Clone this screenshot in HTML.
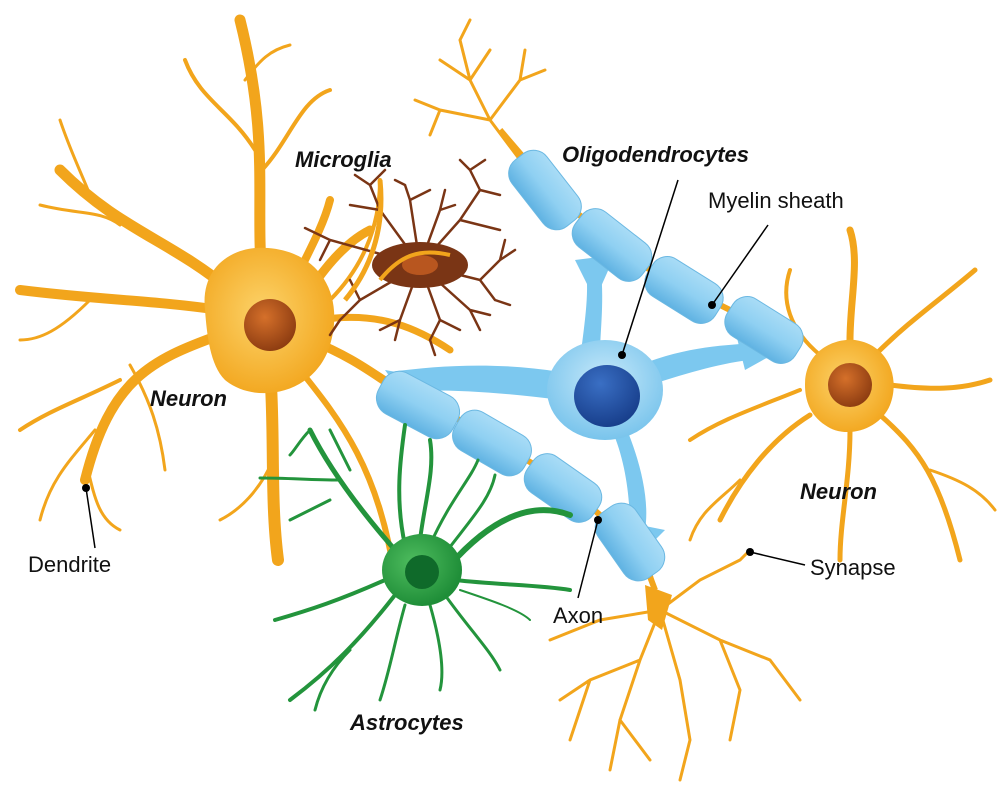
<!DOCTYPE html>
<html><head><meta charset="utf-8"><style>
html,body{margin:0;padding:0;background:#fff}
svg{display:block}
text{font-family:"Liberation Sans",sans-serif;font-size:22px;fill:#111}
.t{font-weight:bold;font-style:italic}
</style></head><body>
<svg width="1000" height="793" viewBox="0 0 1000 793">
<defs>
<radialGradient id="og" cx="0.45" cy="0.45" r="0.6"><stop offset="0" stop-color="#fcd36a"/><stop offset="1" stop-color="#f2a51c"/></radialGradient>
<radialGradient id="nb" cx="0.4" cy="0.35" r="0.7"><stop offset="0" stop-color="#d5702a"/><stop offset="1" stop-color="#8a3a10"/></radialGradient>
<radialGradient id="bl" cx="0.5" cy="0.4" r="0.6"><stop offset="0" stop-color="#c7e9fa"/><stop offset="1" stop-color="#79c4ec"/></radialGradient>
<linearGradient id="sg" x1="0" y1="0" x2="0" y2="1"><stop offset="0" stop-color="#a9dcf6"/><stop offset="0.5" stop-color="#8fd0f2"/><stop offset="1" stop-color="#5fb2e2"/></linearGradient>
<radialGradient id="bn" cx="0.4" cy="0.3" r="0.7"><stop offset="0" stop-color="#3a6fc4"/><stop offset="1" stop-color="#183f8c"/></radialGradient>
<radialGradient id="gn" cx="0.4" cy="0.4" r="0.6"><stop offset="0" stop-color="#4fbd5f"/><stop offset="1" stop-color="#1f8e38"/></radialGradient>
</defs>

<!-- orange dendrites left neuron -->
<g stroke="#f2a51c" fill="none" stroke-linecap="round">
<path d="M262,280 C255,200 270,140 240,20" stroke-width="11"/>
<path d="M255,150 C230,110 200,100 185,60" stroke-width="4"/>
<path d="M245,80 C260,60 270,50 290,45" stroke-width="3"/>
<path d="M262,170 C290,140 300,100 330,90" stroke-width="4"/>
<path d="M230,290 C170,240 120,230 60,170" stroke-width="11"/>
<path d="M120,225 C100,210 80,215 40,205" stroke-width="3"/>
<path d="M90,195 C80,170 70,150 60,120" stroke-width="3"/>
<path d="M220,310 C150,300 100,300 20,290" stroke-width="10"/>
<path d="M90,300 C60,330 40,340 20,340" stroke-width="3"/>
<path d="M220,335 C150,360 110,380 85,480" stroke-width="10"/>
<path d="M120,380 C80,400 50,410 20,430" stroke-width="4"/>
<path d="M95,430 C70,460 50,480 40,520" stroke-width="3"/>
<path d="M88,470 C95,500 100,520 120,530" stroke-width="3"/>
<path d="M130,365 C150,400 160,430 165,470" stroke-width="3"/>
<path d="M270,370 C275,430 270,500 278,560" stroke-width="12"/>
<path d="M273,460 C260,490 240,510 220,520" stroke-width="3"/>
<path d="M300,370 C340,420 380,470 395,580" stroke-width="6"/>
<path d="M310,340 C360,360 380,380 400,390" stroke-width="9"/>
<path d="M310,290 C330,260 350,240 370,230" stroke-width="9"/>
<path d="M320,320 C380,310 420,330 450,350" stroke-width="7"/>
<path d="M300,270 C315,240 325,220 330,200" stroke-width="8"/>
<path d="M330,300 C360,270 380,230 380,180" stroke-width="4"/>
</g>
<!-- left neuron body -->
<path d="M205,310 C200,265 235,245 268,248 C320,252 345,295 330,345 C315,395 255,405 225,380 C210,365 207,335 205,310Z" fill="url(#og)"/>
<circle cx="270" cy="325" r="26" fill="url(#nb)"/>

<!-- microglia -->
<g stroke="#7a3515" fill="none" stroke-linecap="round" stroke-width="2.5">
<path d="M420,265 L460,220 L480,190 M460,220 L500,230 M480,190 L470,170 M480,190 L500,195 M470,170 L460,160 M470,170 L485,160"/>
<path d="M420,265 L380,210 L370,185 M380,210 L350,205 M370,185 L385,170 M370,185 L355,175"/>
<path d="M420,265 L480,280 L500,260 M480,280 L495,300 M500,260 L515,250 M500,260 L505,240 M495,300 L510,305"/>
<path d="M420,265 L440,320 L430,340 M440,320 L460,330 M430,340 L435,355"/>
<path d="M420,265 L360,300 L340,320 M360,300 L350,280 M340,320 L330,335"/>
<path d="M420,265 L330,240 L305,228 M330,240 L320,260"/>
<path d="M420,265 L410,200 L405,185 M410,200 L430,190 M405,185 L395,180"/>
<path d="M420,265 L400,320 L395,340 M400,320 L380,330"/>
<path d="M420,265 L470,310 L480,330 M470,310 L490,315"/>
<path d="M420,265 L440,210 L445,190 M440,210 L455,205"/>
</g>
<ellipse cx="420" cy="265" rx="48" ry="23" fill="#7a3515"/>
<ellipse cx="420" cy="265" rx="18" ry="10" fill="#b8561f"/>
<path d="M380,280 C400,255 420,248 450,255" stroke="#f2a51c" stroke-width="4" fill="none"/>
<path d="M380,180 C385,230 370,270 345,300" stroke="#f2a51c" stroke-width="5" fill="none"/>

<!-- top terminal tree -->
<g stroke="#f2a51c" fill="none" stroke-linecap="round" stroke-width="3">
<path d="M520,160 L490,120 L470,80 L460,40 M470,80 L440,60 M460,40 L470,20 M490,120 L440,110 L415,100 M440,110 L430,135 M490,120 L520,80 L525,50 M520,80 L545,70 M470,80 L490,50"/>
</g>

<!-- bottom terminal tree -->
<g stroke="#f2a51c" fill="none" stroke-linecap="round" stroke-width="3">
<path d="M650,570 L660,610 L640,660 L620,720 L610,770 M640,660 L590,680 L560,700 M620,720 L650,760 M660,610 L720,640 L770,660 L800,700 M720,640 L740,690 L730,740 M660,610 L700,580 L740,560 L750,550 M660,610 L600,620 L550,640 M660,610 L680,680 L690,740 L680,780 M590,680 L570,740"/>
</g>
<path d="M645,585 L672,595 L662,630 L648,620Z" fill="#f2a51c"/>

<!-- right neuron dendrites -->
<g stroke="#f2a51c" fill="none" stroke-linecap="round">
<path d="M850,340 C850,300 860,260 850,230" stroke-width="7"/>
<path d="M875,355 C910,320 940,300 975,270" stroke-width="5"/>
<path d="M890,385 C930,390 960,390 990,380" stroke-width="5"/>
<path d="M880,415 C920,450 940,480 960,560" stroke-width="5"/>
<path d="M850,430 C850,480 840,520 840,560" stroke-width="5"/>
<path d="M810,415 C770,440 740,480 720,520" stroke-width="5"/>
<path d="M800,390 C750,410 720,420 690,440" stroke-width="4"/>
<path d="M820,355 C790,330 780,300 790,270" stroke-width="4"/>
<path d="M930,470 C960,480 980,490 995,510" stroke-width="3"/>
<path d="M740,480 C720,500 700,510 690,540" stroke-width="3"/>
</g>
<path d="M805,385 C805,350 835,338 855,340 C890,345 900,380 890,405 C880,430 845,440 825,425 C810,415 805,400 805,385Z" fill="url(#og)"/>
<circle cx="850" cy="385" r="22" fill="url(#nb)"/>

<!-- axons -->
<g stroke="#f2a51c" stroke-width="6" fill="none">
<path d="M500,130 L560,200 L650,270 L800,345"/>
<path d="M380,390 L460,420 L560,480 L640,550 L655,590"/>
</g>

<!-- oligodendrocyte processes (tapered) -->
<g fill="#7cc8ef">
<path d="M560,372 C500,362 440,365 390,372 L380,392 C440,388 500,392 560,400Z"/>
<path d="M385,370 L430,378 L410,405Z"/>
<path d="M580,360 C585,320 590,290 585,262 L600,262 C605,300 600,330 600,355Z"/>
<path d="M575,260 L615,255 L595,300Z"/>
<path d="M640,365 C690,345 730,345 770,342 L770,358 C730,360 690,372 650,385Z"/>
<path d="M735,330 L790,345 L745,370Z"/>
<path d="M625,425 C640,460 650,500 645,530 L630,530 C630,495 625,460 612,430Z"/>
<path d="M615,520 L665,530 L635,560Z"/>
</g>
<ellipse cx="605" cy="390" rx="58" ry="50" fill="url(#bl)"/>
<ellipse cx="607" cy="396" rx="33" ry="31" fill="url(#bn)"/>

<!-- myelin segments -->
<g fill="url(#sg)" stroke="#6bb8e2" stroke-width="1">
<rect x="-42" y="-22" width="84" height="44" rx="17" transform="translate(545,190) rotate(52)"/>
<rect x="-42" y="-22" width="84" height="44" rx="17" transform="translate(612,245) rotate(38)"/>
<rect x="-40" y="-22" width="80" height="44" rx="17" transform="translate(684,290) rotate(32)"/>
<rect x="-40" y="-22" width="80" height="44" rx="17" transform="translate(764,330) rotate(32)"/>
<rect x="-42" y="-23" width="84" height="46" rx="18" transform="translate(418,405) rotate(28)"/>
<rect x="-40" y="-22" width="80" height="44" rx="17" transform="translate(492,443) rotate(30)"/>
<rect x="-40" y="-22" width="80" height="44" rx="17" transform="translate(563,488) rotate(35)"/>
<rect x="-40" y="-23" width="80" height="46" rx="18" transform="translate(630,542) rotate(55)"/>
</g>

<!-- astrocyte -->
<g stroke="#23943c" fill="none" stroke-linecap="round">
<path d="M405,545 C395,500 400,460 405,425" stroke-width="4"/>
<path d="M420,540 C425,500 435,470 430,440" stroke-width="4"/>
<path d="M430,545 C450,500 470,480 478,460" stroke-width="3"/>
<path d="M440,560 C470,520 490,500 495,475" stroke-width="3"/>
<path d="M450,565 C490,520 530,500 570,515" stroke-width="6"/>
<path d="M395,550 C360,510 330,470 310,430" stroke-width="5"/>
<path d="M340,480 C310,480 290,478 260,478" stroke-width="3"/>
<path d="M330,500 C310,510 300,515 290,520" stroke-width="3"/>
<path d="M310,430 C300,440 295,450 290,455" stroke-width="3"/>
<path d="M350,470 C340,450 335,440 330,430" stroke-width="3"/>
<path d="M385,580 C340,600 310,610 275,620" stroke-width="4"/>
<path d="M395,595 C360,640 330,670 290,700" stroke-width="4"/>
<path d="M405,605 C395,640 390,670 380,700" stroke-width="3"/>
<path d="M430,605 C440,640 445,670 440,690" stroke-width="3"/>
<path d="M445,595 C470,630 490,650 500,670" stroke-width="3"/>
<path d="M455,580 C500,585 540,585 570,590" stroke-width="4"/>
<path d="M460,590 C490,600 520,610 530,620" stroke-width="2"/>
<path d="M350,650 C330,670 320,690 315,710" stroke-width="3"/>
</g>
<ellipse cx="422" cy="570" rx="40" ry="36" fill="url(#gn)"/>
<circle cx="422" cy="572" r="17" fill="#0f6a2a"/>

<!-- leader lines -->
<g stroke="#000" stroke-width="1.5" fill="none">
<line x1="622" y1="355" x2="678" y2="180"/>
<line x1="712" y1="305" x2="768" y2="225"/>
<line x1="86" y1="488" x2="95" y2="548"/>
<line x1="598" y1="520" x2="578" y2="598"/>
<line x1="750" y1="552" x2="805" y2="565"/>
</g>
<g fill="#000">
<circle cx="622" cy="355" r="4"/><circle cx="712" cy="305" r="4"/><circle cx="86" cy="488" r="4"/><circle cx="598" cy="520" r="4"/><circle cx="750" cy="552" r="4"/>
</g>

<!-- labels -->
<text x="295" y="167" class="t">Microglia</text>
<text x="562" y="162" class="t">Oligodendrocytes</text>
<text x="708" y="208">Myelin sheath</text>
<text x="150" y="406" class="t">Neuron</text>
<text x="800" y="499" class="t">Neuron</text>
<text x="28" y="572">Dendrite</text>
<text x="553" y="623">Axon</text>
<text x="810" y="575">Synapse</text>
<text x="350" y="730" class="t">Astrocytes</text>
</svg>
</body></html>
